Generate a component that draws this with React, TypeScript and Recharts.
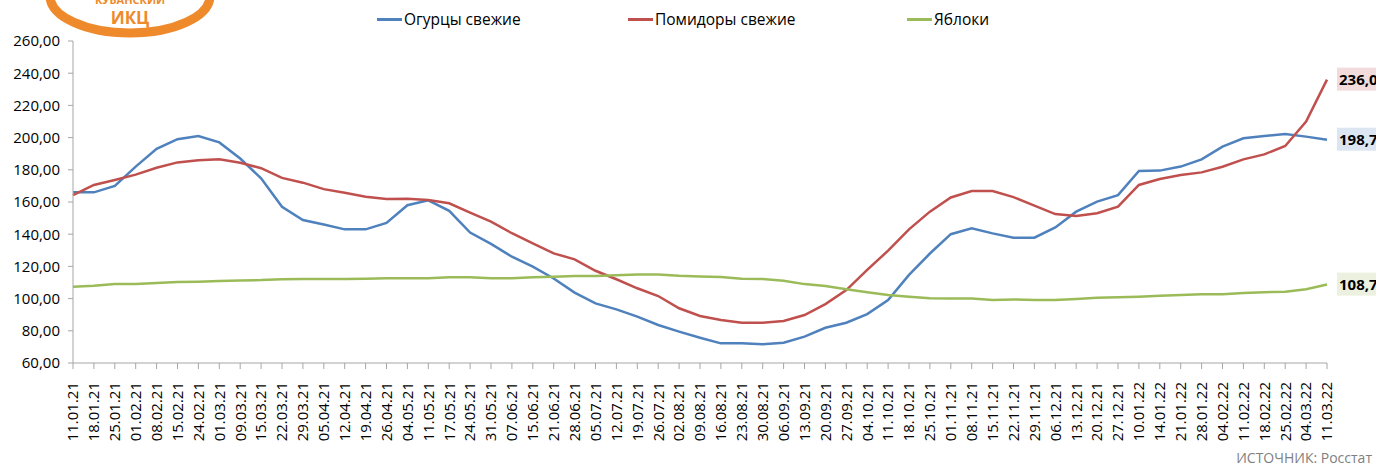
import { Line, LineChart, XAxis, YAxis } from "recharts";

const dates = [
  "11.01.21", "18.01.21", "25.01.21", "01.02.21", "08.02.21", "15.02.21", "24.02.21", "01.03.21",
  "09.03.21", "15.03.21", "22.03.21", "29.03.21", "05.04.21", "12.04.21", "19.04.21", "26.04.21",
  "04.05.21", "11.05.21", "17.05.21", "24.05.21", "31.05.21", "07.06.21", "15.06.21", "21.06.21",
  "28.06.21", "05.07.21", "12.07.21", "19.07.21", "26.07.21", "02.08.21", "09.08.21", "16.08.21",
  "23.08.21", "30.08.21", "06.09.21", "13.09.21", "20.09.21", "27.09.21", "04.10.21", "11.10.21",
  "18.10.21", "25.10.21", "01.11.21", "08.11.21", "15.11.21", "22.11.21", "29.11.21", "06.12.21",
  "13.12.21", "20.12.21", "27.12.21", "10.01.22", "14.01.22", "21.01.22", "28.01.22", "04.02.22",
  "11.02.22", "18.02.22", "25.02.22", "04.03.22", "11.03.22",
];

const cucumbers = [
  166, 166, 170, 182, 193, 199, 201, 197, 187, 174.7, 157, 148.8, 146, 143, 143, 147,
  158, 161, 154.5, 141, 134, 126, 119.8, 112.5, 103.7, 97, 93.3, 88.8, 83.6, 79.5, 75.7, 72.2,
  72.2, 71.6, 72.6, 76.4, 81.9, 85, 90.4, 99.1, 114.7, 128, 140, 143.6, 140.5, 137.8,
  137.8, 144.2, 154, 160.2, 164.3, 179.3, 179.5, 182, 186.5, 194.4, 199.6, 201, 202.3, 200.6, 198.7,
];

const tomatoes = [
  164.3, 170.6, 173.7, 177, 181.3, 184.6, 186, 186.5, 184.4, 181, 175, 172, 168, 165.8, 163.3, 161.9,
  162, 161.2, 159.2, 153.4, 147.8, 140.6, 134.3, 128.1, 124.4, 117.3, 112, 106.4, 101.6, 94, 89.2, 86.7,
  85, 85, 86.1, 89.8, 96.6, 105.3, 117.8, 129.8, 143, 154, 162.8, 166.8, 166.8, 163,
  157.7, 152.5, 151.3, 153, 157.1, 170.6, 174.3, 176.8, 178.4, 181.9, 186.5, 189.6, 194.8, 209.9, 236.0,
];

const apples = [
  107.4, 108, 109, 109.1, 109.7, 110.3, 110.5, 110.9, 111.3, 111.5, 112, 112.2, 112.2, 112.2, 112.4, 112.6,
  112.6, 112.6, 113.2, 113.2, 112.6, 112.6, 113.2, 113.6, 114, 114, 114.5, 114.9, 114.9, 114.2, 113.8, 113.4,
  112.4, 112.2, 111.1, 109, 107.8, 105.8, 103.9, 102.2, 101.2, 100.2, 100, 100, 99.1, 99.5,
  99.1, 99.1, 99.8, 100.6, 100.8, 101.2, 101.8, 102.2, 102.7, 102.7, 103.5, 104, 104.3, 105.8, 108.7,
];

const yTicks = [60, 80, 100, 120, 140, 160, 180, 200, 220, 240, 260];

const series = [
  { key: "cucumbers", name: "Огурцы свежие", color: "#4f81bd", labelBg: "#dce6f2", legendX: 377 },
  { key: "tomatoes", name: "Помидоры свежие", color: "#c0504d", labelBg: "#f2dcdb", legendX: 628 },
  { key: "apples", name: "Яблоки", color: "#9bbb59", labelBg: "#ebf1de", legendX: 907 },
];

const data = dates.map((date, i) => ({
  date,
  cucumbers: cucumbers[i],
  tomatoes: tomatoes[i],
  apples: apples[i],
}));

const FONT = "'Open Sans', sans-serif";
const fmt = (v: number, digits: number) => v.toFixed(digits).replace(".", ",");

const DateTick = ({ x, y, payload }: any) => (
  <text
    x={x}
    y={y}
    transform={`rotate(-90 ${x} ${y})`}
    textAnchor="end"
    dy="0.36em"
    fontSize={15}
    fontFamily={FONT}
    fill="#000"
  >
    {payload.value}
  </text>
);

// value box only on the last point, like the excel data labels
const endLabel = (bg: string) => (props: any) => {
  const { x, y, index, value } = props;
  if (index !== dates.length - 1) return <g key={`l-${index}`} />;
  return (
    <g key={`l-${index}`}>
      <rect x={x + 10} y={y - 12} width={50} height={23} fill={bg} />
      <text x={x + 12} y={y} dy="0.36em" fontSize={15} fontWeight="bold" fontFamily={FONT} fill="#000">
        {fmt(value, 1)}
      </text>
    </g>
  );
};

const LegendBox = () => (
  <div style={{ position: "absolute", left: 0, top: 8, width: 1376, height: 24 }}>
    {series.map((s) => (
      <div
        key={s.key}
        style={{
          position: "absolute",
          left: s.legendX,
          top: 0,
          display: "flex",
          alignItems: "center",
          fontFamily: FONT,
          fontSize: 15.5,
          color: "#000",
          whiteSpace: "nowrap",
        }}
      >
        <span style={{ display: "inline-block", width: 25, height: 3, background: s.color, marginRight: 2 }} />
        {s.name}
      </div>
    ))}
  </div>
);

const Logo = () => (
  <svg width={200} height={45} style={{ position: "absolute", left: 30, top: 0 }}>
    <ellipse cx={100} cy={-4} rx={80} ry={37} fill="#fff" stroke="#ee8a2c" strokeWidth={9} />
    <text x={100} y={4} textAnchor="middle" fontSize={11} fontWeight="bold" fontFamily={FONT} fill="#ee8a2c">
      КУБАНСКИЙ
    </text>
    <text x={100} y={24} textAnchor="middle" fontSize={17} fontWeight="bold" fontFamily={FONT} fill="#ee8a2c">
      ИКЦ
    </text>
  </svg>
);

export default function App() {
  return (
    <div style={{ position: "absolute", left: 0, top: 0, width: 1376, height: 468, background: "#fff" }}>
      <LineChart width={1376} height={468} data={data} margin={{ top: 41, right: 49, left: 0, bottom: 0 }}>
        <XAxis
          dataKey="date"
          interval={0}
          height={105}
          tick={<DateTick />}
          tickSize={6}
          tickMargin={13}
          axisLine={{ stroke: "#a6a6a6" }}
          tickLine={{ stroke: "#a6a6a6" }}
        />
        <YAxis
          domain={[60, 260]}
          ticks={yTicks}
          width={73}
          tickSize={5}
          tickMargin={8}
          tickFormatter={(v: number) => fmt(v, 2)}
          tick={{ fontSize: 15, fontFamily: FONT, fill: "#000" }}
          axisLine={{ stroke: "#a6a6a6" }}
          tickLine={{ stroke: "#a6a6a6" }}
        />
        {series.map((s) => (
          <Line
            key={s.key}
            type="linear"
            dataKey={s.key}
            name={s.name}
            stroke={s.color}
            strokeWidth={2.5}
            dot={false}
            isAnimationActive={false}
            label={endLabel(s.labelBg)}
          />
        ))}
      </LineChart>
      <LegendBox />
      <Logo />
      <div
        style={{
          position: "absolute",
          right: 4,
          top: 448,
          fontFamily: FONT,
          fontSize: 14,
          color: "#808080",
        }}
      >
        ИСТОЧНИК: Росстат
      </div>
    </div>
  );
}
